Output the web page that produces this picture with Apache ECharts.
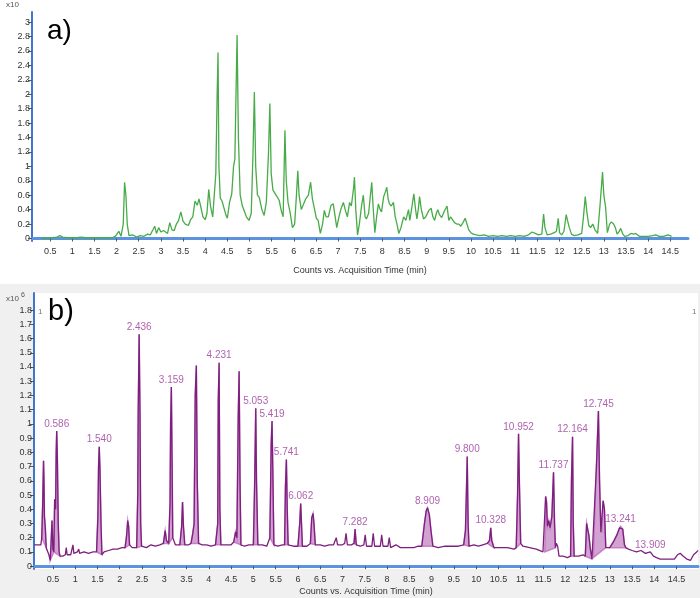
<!DOCTYPE html>
<html>
<head>
    <meta charset="utf-8">
    <title>Chromatograms a) and b)</title>
    <script src="https://cdn.jsdelivr.net/npm/echarts@6.0.0/dist/echarts.min.js"></script>
    <style>
        html, body { margin: 0; padding: 0; background: #fff; }
        #chart { width: 700px; height: 598px; }
    </style>
</head>
<body>
<div id="chart"></div>
<script>
    // tick labels
    const timeTicks = [0.5, 1, 1.5, 2, 2.5, 3, 3.5, 4, 4.5, 5, 5.5, 6, 6.5, 7, 7.5, 8, 8.5, 9, 9.5, 10, 10.5, 11, 11.5, 12, 12.5, 13, 13.5, 14, 14.5];
    const countTicksA = [0, 0.2, 0.4, 0.6, 0.8, 1, 1.2, 1.4, 1.6, 1.8, 2, 2.2, 2.4, 2.6, 2.8, 3];
    const countTicksB = [0, 0.1, 0.2, 0.3, 0.4, 0.5, 0.6, 0.7, 0.8, 0.9, 1, 1.1, 1.2, 1.3, 1.4, 1.5, 1.6, 1.7, 1.8];

    // a) green trace: [time (min), counts]
    const traceA = [
        [0.30, 0.01], [0.45, 0.00], [0.55, 0.01], [0.65, 0.02], [0.72, 0.04], [0.78, 0.02], [0.9, 0.01], [1.1, 0.01],
        [1.2, 0.02], [1.3, 0.01], [1.6, 0.01], [1.9, 0.01], [1.97, 0.03], [2.05, 0.10], [2.1, 0.03], [2.15, 0.2],
        [2.18, 0.78], [2.21, 0.6], [2.24, 0.2], [2.28, 0.04], [2.36, 0.05], [2.45, 0.02], [2.53, 0.04], [2.62, 0.03],
        [2.7, 0.06], [2.76, 0.05], [2.82, 0.12], [2.86, 0.17], [2.9, 0.07], [2.95, 0.15], [3.0, 0.09], [3.06, 0.11],
        [3.1, 0.1], [3.15, 0.07], [3.2, 0.22], [3.25, 0.12], [3.3, 0.11], [3.35, 0.2], [3.4, 0.25], [3.45, 0.37],
        [3.5, 0.24], [3.55, 0.2], [3.62, 0.18], [3.67, 0.26], [3.72, 0.3], [3.77, 0.52], [3.82, 0.46], [3.86, 0.55],
        [3.9, 0.44], [3.95, 0.3], [4.0, 0.26], [4.04, 0.35], [4.08, 0.68], [4.12, 0.45], [4.17, 0.3], [4.21, 0.32],
        [4.24, 0.9], [4.27, 2.0], [4.29, 2.58], [4.31, 1.0], [4.34, 0.56], [4.38, 0.52], [4.42, 0.51], [4.47, 0.32],
        [4.5, 0.28], [4.55, 0.5], [4.6, 0.62], [4.64, 1.0], [4.67, 1.1], [4.69, 1.8], [4.72, 2.82], [4.75, 1.4],
        [4.79, 0.6], [4.84, 0.45], [4.88, 0.43], [4.93, 0.3], [4.99, 0.25], [5.04, 0.35], [5.08, 1.2], [5.11, 2.03],
        [5.14, 1.0], [5.18, 0.6], [5.22, 0.57], [5.28, 0.4], [5.33, 0.32], [5.38, 0.5], [5.43, 1.2], [5.46, 1.87],
        [5.49, 0.9], [5.53, 0.67], [5.6, 0.6], [5.67, 0.53], [5.72, 0.38], [5.76, 0.3], [5.78, 0.9], [5.8, 1.5],
        [5.83, 0.8], [5.87, 0.5], [5.92, 0.35], [5.97, 0.15], [6.02, 0.2], [6.06, 0.6], [6.09, 0.94], [6.12, 0.6],
        [6.17, 0.4], [6.21, 0.39], [6.27, 0.55], [6.33, 0.6], [6.38, 0.78], [6.42, 0.55], [6.46, 0.43], [6.51, 0.28],
        [6.55, 0.25], [6.6, 0.07], [6.65, 0.2], [6.69, 0.39], [6.73, 0.3], [6.78, 0.3], [6.84, 0.46], [6.89, 0.48],
        [6.93, 0.32], [6.97, 0.15], [7.02, 0.3], [7.07, 0.42], [7.12, 0.5], [7.17, 0.38], [7.21, 0.3], [7.26, 0.5],
        [7.3, 0.45], [7.35, 0.7], [7.37, 0.85], [7.4, 0.4], [7.44, 0.05], [7.48, 0.2], [7.53, 0.45], [7.57, 0.6],
        [7.61, 0.3], [7.64, 0.27], [7.69, 0.35], [7.73, 0.6], [7.76, 0.78], [7.79, 0.45], [7.83, 0.08], [7.87, 0.3],
        [7.91, 0.48], [7.95, 0.4], [7.98, 0.37], [8.03, 0.58], [8.07, 0.65], [8.1, 0.71], [8.13, 0.55], [8.16, 0.48],
        [8.2, 0.45], [8.25, 0.5], [8.29, 0.3], [8.33, 0.2], [8.37, 0.07], [8.42, 0.15], [8.48, 0.3], [8.53, 0.25],
        [8.59, 0.4], [8.62, 0.25], [8.67, 0.45], [8.71, 0.62], [8.75, 0.4], [8.78, 0.27], [8.81, 0.4], [8.84, 0.58],
        [8.88, 0.4], [8.93, 0.27], [8.98, 0.3], [9.05, 0.39], [9.1, 0.42], [9.14, 0.3], [9.18, 0.25], [9.22, 0.35],
        [9.25, 0.4], [9.29, 0.33], [9.34, 0.29], [9.4, 0.38], [9.46, 0.45], [9.5, 0.25], [9.54, 0.3], [9.58, 0.29],
        [9.63, 0.22], [9.68, 0.2], [9.73, 0.2], [9.77, 0.17], [9.82, 0.22], [9.87, 0.28], [9.91, 0.2], [9.95, 0.12],
        [10.0, 0.08], [10.05, 0.06], [10.12, 0.05], [10.2, 0.04], [10.3, 0.05], [10.4, 0.03], [10.5, 0.04], [10.6, 0.03],
        [10.7, 0.04], [10.8, 0.03], [10.9, 0.04], [11.0, 0.03], [11.1, 0.04], [11.2, 0.03], [11.3, 0.05], [11.38, 0.09],
        [11.45, 0.07], [11.52, 0.05], [11.6, 0.06], [11.64, 0.34], [11.67, 0.15], [11.72, 0.05], [11.8, 0.06], [11.88, 0.08],
        [11.93, 0.1], [11.97, 0.28], [12.0, 0.08], [12.05, 0.05], [12.1, 0.1], [12.15, 0.33], [12.18, 0.25], [12.22, 0.15],
        [12.27, 0.06], [12.33, 0.04], [12.42, 0.05], [12.5, 0.07], [12.54, 0.3], [12.58, 0.58], [12.62, 0.35], [12.66, 0.18],
        [12.7, 0.15], [12.75, 0.2], [12.8, 0.12], [12.86, 0.07], [12.91, 0.43], [12.95, 0.75], [12.97, 0.92], [13.0, 0.6],
        [13.04, 0.43], [13.08, 0.08], [13.13, 0.2], [13.17, 0.23], [13.22, 0.2], [13.26, 0.15], [13.3, 0.06], [13.35, 0.1],
        [13.38, 0.14], [13.43, 0.06], [13.47, 0.03], [13.55, 0.04], [13.61, 0.07], [13.67, 0.06], [13.72, 0.07], [13.8, 0.03],
        [13.9, 0.03], [14.0, 0.03], [14.1, 0.04], [14.17, 0.05], [14.25, 0.03], [14.35, 0.03], [14.45, 0.05], [14.49, 0.06],
        [14.53, 0.03]
    ];

    // b) purple trace: [time (min), counts]
    const traceB = [
        [0.08, 0.15], [0.12, 0.16], [0.16, 0.15], [0.2, 0.16], [0.23, 0.15], [0.25, 0.2], [0.27, 0.43], [0.29, 0.74],
        [0.3, 0.6], [0.31, 0.35], [0.33, 0.27], [0.35, 0.13], [0.38, 0.12], [0.41, 0.08], [0.44, 0.04], [0.46, 0.17],
        [0.48, 0.32], [0.5, 0.12], [0.52, 0.1], [0.54, 0.47], [0.56, 0.4], [0.574, 0.8], [0.586, 0.95], [0.6, 0.77],
        [0.62, 0.3], [0.64, 0.1], [0.66, 0.07], [0.72, 0.07], [0.78, 0.08], [0.8, 0.13], [0.82, 0.08], [0.9, 0.08],
        [0.95, 0.15], [0.97, 0.09], [1.05, 0.1], [1.08, 0.12], [1.1, 0.09], [1.2, 0.1], [1.3, 0.09], [1.4, 0.1],
        [1.48, 0.1], [1.51, 0.35], [1.525, 0.7], [1.54, 0.84], [1.555, 0.7], [1.58, 0.3], [1.6, 0.08], [1.65, 0.1],
        [1.75, 0.11], [1.85, 0.12], [1.95, 0.12], [2.05, 0.13], [2.12, 0.13], [2.15, 0.2], [2.18, 0.32], [2.2, 0.28],
        [2.22, 0.15], [2.28, 0.13], [2.38, 0.13], [2.405, 0.5], [2.415, 1.08], [2.436, 1.63], [2.455, 1.08], [2.47, 0.3],
        [2.49, 0.14], [2.6, 0.13], [2.7, 0.15], [2.8, 0.14], [2.9, 0.15], [2.98, 0.16], [3.02, 0.25], [3.05, 0.18],
        [3.1, 0.16], [3.13, 0.45], [3.142, 1.0], [3.159, 1.26], [3.175, 0.75], [3.19, 0.2], [3.25, 0.15], [3.35, 0.15],
        [3.39, 0.28], [3.41, 0.45], [3.43, 0.28], [3.46, 0.15], [3.55, 0.15], [3.6, 0.16], [3.64, 0.23], [3.67, 0.3],
        [3.695, 1.2], [3.72, 1.41], [3.74, 0.6], [3.77, 0.16], [3.85, 0.15], [3.95, 0.15], [4.05, 0.14], [4.15, 0.15],
        [4.2, 0.3], [4.212, 1.16], [4.231, 1.43], [4.248, 0.4], [4.27, 0.15], [4.4, 0.15], [4.5, 0.15], [4.56, 0.17],
        [4.6, 0.24], [4.63, 0.2], [4.66, 1.05], [4.68, 1.37], [4.7, 0.6], [4.72, 0.15], [4.8, 0.14], [4.9, 0.15],
        [5.0, 0.15], [5.03, 0.6], [5.053, 1.11], [5.07, 0.6], [5.1, 0.15], [5.2, 0.15], [5.3, 0.14], [5.37, 0.2],
        [5.4, 0.86], [5.419, 1.02], [5.435, 0.7], [5.46, 0.15], [5.55, 0.14], [5.65, 0.15], [5.7, 0.15], [5.72, 0.56],
        [5.741, 0.75], [5.76, 0.4], [5.78, 0.15], [5.9, 0.14], [6.0, 0.14], [6.04, 0.3], [6.062, 0.44], [6.08, 0.3],
        [6.1, 0.14], [6.2, 0.14], [6.28, 0.16], [6.31, 0.34], [6.34, 0.37], [6.36, 0.3], [6.39, 0.15], [6.5, 0.15],
        [6.6, 0.14], [6.7, 0.15], [6.8, 0.15], [6.86, 0.2], [6.89, 0.15], [7.0, 0.15], [7.05, 0.16], [7.08, 0.23],
        [7.11, 0.15], [7.2, 0.15], [7.26, 0.16], [7.282, 0.26], [7.31, 0.15], [7.4, 0.14], [7.48, 0.15], [7.51, 0.22],
        [7.54, 0.14], [7.66, 0.14], [7.69, 0.23], [7.72, 0.14], [7.85, 0.14], [7.88, 0.22], [7.91, 0.14], [8.02, 0.14],
        [8.05, 0.2], [8.08, 0.13], [8.2, 0.15], [8.3, 0.13], [8.45, 0.13], [8.6, 0.13], [8.7, 0.14], [8.78, 0.14],
        [8.84, 0.3], [8.88, 0.39], [8.909, 0.41], [8.95, 0.36], [8.99, 0.24], [9.03, 0.14], [9.15, 0.13], [9.3, 0.14],
        [9.45, 0.14], [9.6, 0.14], [9.72, 0.15], [9.76, 0.25], [9.78, 0.5], [9.8, 0.77], [9.82, 0.3], [9.84, 0.14],
        [9.95, 0.15], [10.05, 0.14], [10.15, 0.15], [10.25, 0.16], [10.3, 0.18], [10.328, 0.27], [10.35, 0.18], [10.4, 0.13],
        [10.55, 0.13], [10.7, 0.13], [10.85, 0.12], [10.9, 0.13], [10.93, 0.5], [10.952, 0.93], [10.97, 0.6], [11.0, 0.16],
        [11.05, 0.14], [11.2, 0.13], [11.35, 0.12], [11.5, 0.1], [11.54, 0.1], [11.56, 0.49], [11.58, 0.45], [11.6, 0.28],
        [11.63, 0.32], [11.66, 0.27], [11.7, 0.35], [11.737, 0.66], [11.76, 0.3], [11.78, 0.13], [11.8, 0.16], [11.83, 0.14],
        [11.86, 0.07], [11.95, 0.07], [12.05, 0.06], [12.12, 0.07], [12.14, 0.6], [12.164, 0.91], [12.18, 0.3], [12.2, 0.07],
        [12.3, 0.07], [12.4, 0.08], [12.45, 0.07], [12.48, 0.3], [12.51, 0.25], [12.53, 0.22], [12.56, 0.13], [12.6, 0.05],
        [12.63, 0.06], [12.7, 0.7], [12.745, 1.09], [12.77, 0.6], [12.8, 0.24], [12.82, 0.24], [12.85, 0.46], [12.88, 0.4],
        [12.91, 0.13], [12.95, 0.12], [13.0, 0.13], [13.08, 0.17], [13.16, 0.22], [13.22, 0.27], [13.241, 0.28], [13.29, 0.26],
        [13.33, 0.15], [13.36, 0.13], [13.42, 0.12], [13.5, 0.11], [13.6, 0.1], [13.7, 0.11], [13.8, 0.09], [13.909, 0.1],
        [13.98, 0.07], [14.05, 0.06], [14.13, 0.05], [14.25, 0.05], [14.35, 0.05], [14.45, 0.05], [14.52, 0.08], [14.58, 0.09],
        [14.65, 0.07], [14.73, 0.05], [14.81, 0.04], [14.88, 0.08], [14.95, 0.1], [14.98, 0.11]
    ];

    // labelled retention times in b)
    const peakLabels = [0.586, 1.540, 2.436, 3.159, 4.231, 5.053, 5.419, 5.741, 6.062, 7.282, 8.909, 9.800, 10.328, 10.952, 11.737, 12.164, 12.745, 13.241, 13.909];

    // integrated peak windows in b) [start, end]
    const fillWindows = [
        [0.25, 0.35], [0.44, 0.52], [0.52, 0.66], [1.48, 1.6], [2.12, 2.22], [2.38, 2.49], [2.98, 3.1], [3.1, 3.19],
        [3.35, 3.46], [3.6, 3.77], [4.15, 4.27], [4.56, 4.72], [5.0, 5.1], [5.37, 5.46], [5.7, 5.78], [6.0, 6.1],
        [6.28, 6.39], [7.26, 7.31], [8.78, 9.03], [9.72, 9.84], [10.25, 10.4], [10.9, 11.0], [11.54, 11.78], [12.12, 12.2],
        [12.45, 12.6], [12.63, 12.91], [13.0, 13.36]
    ];

    function heightAt(t) {
        const p = traceB.find(function (d) { return Math.abs(d[0] - t) < 1e-6; });
        return p ? p[1] : 0;
    }

    const blue = '#3f76d0';
    const labelFont = "'Liberation Sans Narrow', 'Liberation Sans', Arial, sans-serif";

    function xAxisOpt(idx, min, max, gap) {
        return {
            type: 'value', gridIndex: idx, min: min, max: max,
            name: 'Counts vs. Acquisition Time (min)', nameLocation: 'middle', nameGap: gap,
            nameTextStyle: { fontSize: 9, color: '#333', fontFamily: labelFont },
            axisLine: { lineStyle: { color: '#5b93e0', width: 3 } },
            axisTick: { customValues: timeTicks, length: 3, lineStyle: { color: '#555' } },
            axisLabel: { customValues: timeTicks, fontSize: 9, color: '#333', margin: 6, fontFamily: labelFont },
            splitLine: { show: false }
        };
    }

    function yAxisOpt(idx, min, max, ticks) {
        return {
            type: 'value', gridIndex: idx, min: min, max: max,
            axisLine: { show: true, lineStyle: { color: blue, width: 2 } },
            axisTick: { show: true, customValues: ticks, length: 4, lineStyle: { color: '#555' } },
            axisLabel: { customValues: ticks, fontSize: 9, color: '#333', margin: 2, fontFamily: labelFont },
            splitLine: { show: false }
        };
    }

    const chart = echarts.init(document.getElementById('chart'), null, { renderer: 'canvas' });
    const option = {
        animation: false,
        backgroundColor: '#ffffff',
        grid: [
            { left: 32, right: 12, top: 12, bottom: 357, show: true, backgroundColor: '#ffffff', borderWidth: 0 },
            { left: 34, right: 2, top: 293, bottom: 29, show: true, backgroundColor: '#ffffff', borderWidth: 0 }
        ],
        xAxis: [xAxisOpt(0, 0.09, 14.9, 25), xAxisOpt(1, 0.076, 14.98, 18)],
        yAxis: [yAxisOpt(0, -0.035, 3.14, countTicksA), yAxisOpt(1, -0.02, 1.92, countTicksB)],
        graphic: [
            { type: 'rect', z: -100, shape: { x: 0, y: 284, width: 700, height: 314 }, style: { fill: '#f0f0f0' } },
            { type: 'text', x: 47, y: 31, style: { text: 'a)', font: "28px 'Liberation Sans', Arial, sans-serif", fill: '#000', textVerticalAlign: 'middle' } },
            { type: 'text', x: 48, y: 312, style: { text: 'b)', font: "29px 'Liberation Sans', Arial, sans-serif", fill: '#000', textVerticalAlign: 'middle' } },
            { type: 'text', x: 6, y: 1, style: { text: 'x10', font: '8px ' + labelFont, fill: '#555' } },
            { type: 'text', x: 6, y: 295, style: { text: 'x10', font: '8px ' + labelFont, fill: '#555' } },
            { type: 'text', x: 21, y: 292, style: { text: '6', font: '7px ' + labelFont, fill: '#555' } },
            { type: 'text', x: 38, y: 308, style: { text: '1', font: '8px ' + labelFont, fill: '#777' } },
            { type: 'text', x: 692, y: 308, style: { text: '1', font: '8px ' + labelFont, fill: '#777' } }
        ],
        series: [
            {
                type: 'line', xAxisIndex: 0, yAxisIndex: 0, data: traceA,
                showSymbol: false, symbol: 'none', sampling: false,
                lineStyle: { color: '#47ab47', width: 1.3 }
            },
            {
                type: 'custom', xAxisIndex: 1, yAxisIndex: 1,
                data: fillWindows.map(function (w) { return [w[0], w[1], 0]; }),
                encode: { x: [0, 1], y: 2 },
                clip: true, z: 1,
                renderItem: function (params, api) {
                    const s = api.value(0), e = api.value(1);
                    const pts = traceB.filter(function (p) { return p[0] >= s - 1e-9 && p[0] <= e + 1e-9; })
                        .map(function (p) { return api.coord(p); });
                    return { type: 'polygon', shape: { points: pts }, style: { fill: 'rgba(180,100,180,0.6)', stroke: 'rgba(190,110,190,0.8)', lineWidth: 1.5 } };
                }
            },
            {
                type: 'line', xAxisIndex: 1, yAxisIndex: 1, data: traceB, z: 3,
                showSymbol: false, symbol: 'none', sampling: false,
                lineStyle: { color: '#7e1f7e', width: 1.3 }
            },
            {
                type: 'scatter', xAxisIndex: 1, yAxisIndex: 1, z: 4, symbolSize: 0,
                data: peakLabels.map(function (t) { return { value: [t, heightAt(t)], name: t.toFixed(3) }; }),
                label: {
                    show: true, position: 'top', distance: 2, formatter: '{b}',
                    fontSize: 10, color: '#9a3a9a', fontFamily: labelFont
                }
            }
        ]
    };
    chart.setOption(option);
</script>
</body>
</html>
